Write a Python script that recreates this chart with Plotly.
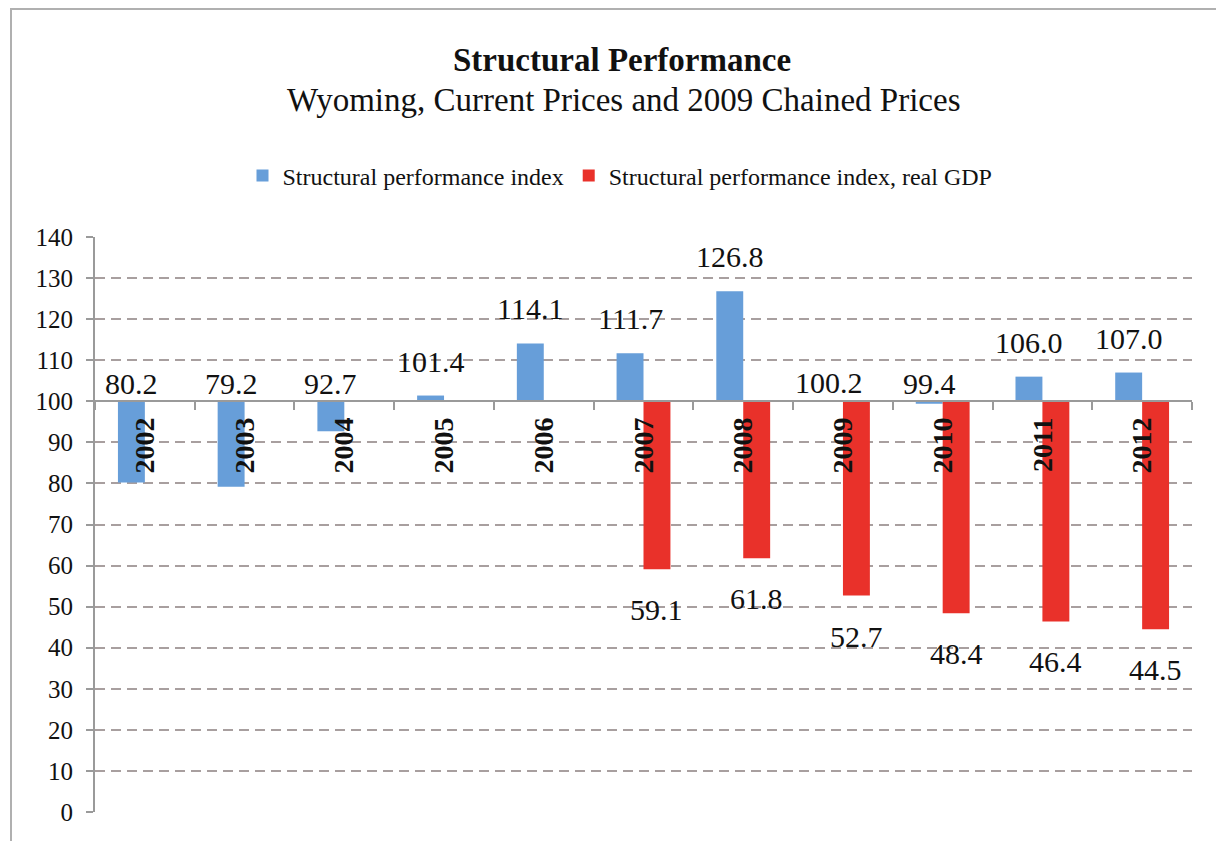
"""
Structural performance index bar chart (Wyoming), bars hanging off a 100 baseline.
"""

import plotly.graph_objects as go

# --- data -------------------------------------------------------------------
years = ['2002', '2003', '2004', '2005', '2006', '2007',
         '2008', '2009', '2010', '2011', '2012']
spi_nominal = [80.2, 79.2, 92.7, 101.4, 114.1, 111.7, 126.8, 100.2, 99.4, 106.0, 107.0]
spi_real = [None, None, None, None, None, 59.1, 61.8, 52.7, 48.4, 46.4, 44.5]
y_ticks = list(range(0, 141, 10))

BASELINE = 100
BLUE = '#679ed9'
RED = '#e9312a'
GRID = '#a89f9f'
SERIF = 'Liberation Serif'
BARGAP = 0.46

# the page body adds an 8px offset, so the figure is a little smaller
OFF = 8
W, H = 1224 - 2 * OFF, 841 - OFF
# plot area edges in screen pixels
X0, X1, Y0, Y1 = 95, 1192, 237, 812
L, R, T, B = X0 - OFF, W + OFF - X1, Y0 - OFF, H + OFF - Y1
PW, PH = X1 - X0, Y1 - Y0


def px_to_paper(xp, yp):
    """Convert a screen pixel position into paper coordinates."""
    return (xp - X0) / PW, (Y1 - yp) / PH


fig = go.Figure()

fig.add_trace(go.Bar(
    x=years,
    y=[v - BASELINE for v in spi_nominal],
    base=BASELINE,
    name='Structural performance index',
    marker=dict(color=BLUE, line=dict(width=0)),
    customdata=spi_nominal,
    hovertemplate='%{x}: %{customdata}<extra></extra>',
))
fig.add_trace(go.Bar(
    x=years,
    y=[None if v is None else v - BASELINE for v in spi_real],
    base=BASELINE,
    name='Structural performance index, real GDP',
    marker=dict(color=RED, line=dict(width=0)),
    customdata=spi_real,
    hovertemplate='%{x}: %{customdata}<extra></extra>',
))

# value labels (x given as category index)
bar_px = (1 - BARGAP) / 2 * PW / len(years)
annotations = []
for i, v in enumerate(spi_nominal):
    annotations.append(dict(
        x=i, y=max(v, BASELINE), xref='x', yref='y',
        text=f'{v:.1f}', showarrow=False,
        xshift=-bar_px / 2, yanchor='bottom',
        yshift=16 if v > 101 else -1,
        font=dict(family=SERIF, size=30, color='#111111'),
    ))
for i, v in enumerate(spi_real):
    if v is None:
        continue
    annotations.append(dict(
        x=i, y=v, xref='x', yref='y',
        text=f'{v:.1f}', showarrow=False,
        xshift=bar_px / 2, yanchor='top', yshift=-22,
        font=dict(family=SERIF, size=30, color='#111111'),
    ))

# chart title
tx, ty = px_to_paper(622, 60)
annotations.append(dict(
    x=tx, y=ty, xref='paper', yref='paper', yanchor='middle',
    text='<b>Structural Performance</b>', showarrow=False,
    font=dict(family=SERIF, size=33, color='#111111'),
))
tx, ty = px_to_paper(623, 100)
annotations.append(dict(
    x=tx, y=ty, xref='paper', yref='paper', yanchor='middle',
    text='Wyoming, Current Prices and 2009 Chained Prices', showarrow=False,
    font=dict(family=SERIF, size=33, color='#111111'),
))

# frame around the chart
fx0, fy0 = px_to_paper(11, 9)
fx1, fy1 = px_to_paper(1223, 850)
lx, ly = px_to_paper(620, 176)

fig.update_layout(
    width=W,
    height=H,
    margin=dict(l=L, r=R, t=T, b=B),
    paper_bgcolor='white',
    plot_bgcolor='white',
    barmode='group',
    bargap=BARGAP,
    bargroupgap=0,
    font=dict(family=SERIF, color='#111111'),
    showlegend=True,
    legend=dict(
        orientation='h',
        x=lx,
        xanchor='center',
        y=ly,
        yanchor='middle',
        font=dict(family=SERIF, size=24, color='#111111'),
        itemwidth=30,
        bgcolor='rgba(0,0,0,0)',
    ),
    xaxis=dict(
        type='category',
        range=[-0.5, len(years) - 0.5],
        anchor='free',
        position=BASELINE / 140,
        showline=True,
        linecolor='#9a9a9a',
        linewidth=2,
        ticks='outside',
        ticklen=8,
        tickcolor='#9a9a9a',
        tickwidth=2,
        tickson='boundaries',
        tickangle=-90,
        tickfont=dict(family=SERIF, size=28, color='#111111', weight='bold'),
        ticklabelstandoff=4,
        showgrid=False,
        zeroline=False,
        fixedrange=True,
    ),
    yaxis=dict(
        range=[0, 140],
        tickvals=y_ticks,
        showline=True,
        linecolor='#9a9a9a',
        linewidth=2,
        ticks='outside',
        ticklen=7,
        tickcolor='#9a9a9a',
        tickwidth=2,
        showgrid=True,
        gridcolor=GRID,
        gridwidth=2,
        griddash='10px,6px',
        zeroline=False,
        tickfont=dict(family=SERIF, size=25, color='#111111'),
        ticklabelstandoff=8,
    ),
    shapes=[dict(
        type='rect', xref='paper', yref='paper',
        x0=fx0, y0=fy1, x1=fx1, y1=fy0,
        line=dict(color='#b0b0b0', width=2),
        fillcolor='rgba(0,0,0,0)', layer='below',
    )],
    annotations=annotations,
)

fig.write_html("out.html")
